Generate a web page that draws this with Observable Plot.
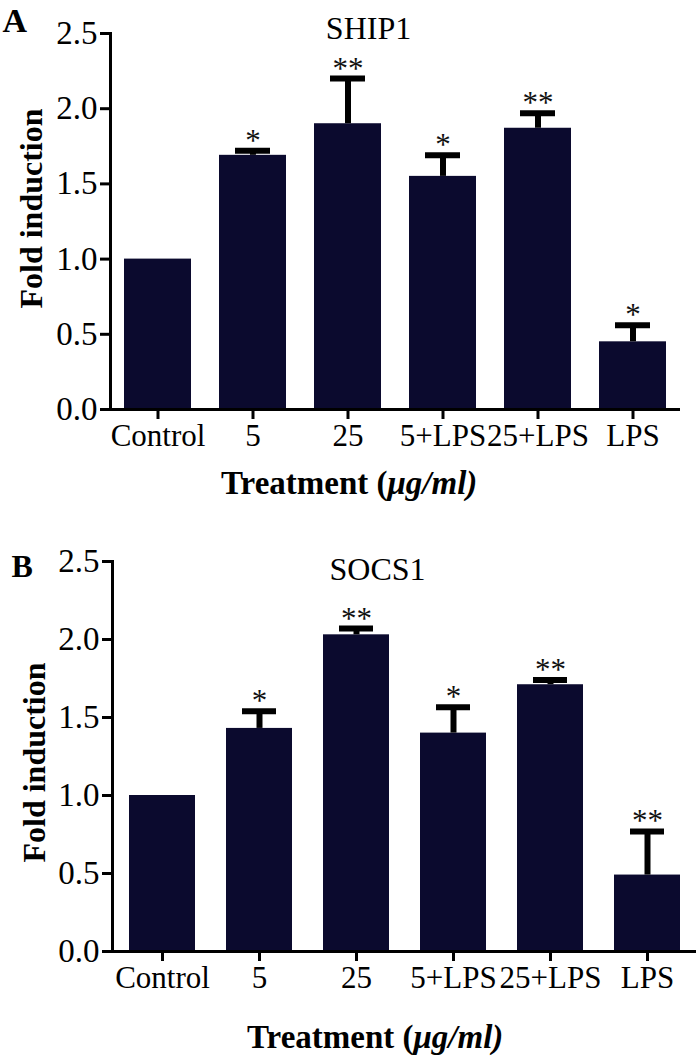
<!DOCTYPE html>
<html><head><meta charset="utf-8">
<script src="https://cdn.jsdelivr.net/npm/d3@7"></script>
<script src="https://cdn.jsdelivr.net/npm/@observablehq/plot@0.6"></script>
<style>
body{margin:0;background:#fff;}
#fig{width:696px;height:1056px;}
#fig svg{display:block;}
</style></head><body><div id="fig"></div>
<script>
const categories = ["Control","5","25","5+LPS","25+LPS","LPS"];
const ship1Values = [1.00,1.69,1.90,1.55,1.87,0.45];
const ship1Errors = [0,0.03,0.30,0.14,0.10,0.11];
const ship1Stars = ["","*","**","*","**","*"];
const socs1Values = [1.00,1.43,2.03,1.40,1.71,0.49];
const socs1Errors = [0,0.11,0.04,0.165,0.03,0.28];
const socs1Stars = ["","*","**","*","**","**"];
const yTicks = [0,0.5,1.0,1.5,2.0,2.5];
const panelLetters = ["A","B"];
const titles = ["SHIP1","SOCS1"];
const yLabel = "Fold induction";
const xLabel = "Treatment (";
const xLabelUnit = "μg/ml)";
const barColor = "#0b0a2e";
const serif = "'Liberation Serif', 'Times New Roman', serif";

function panel(values, errors, stars, letter, title, L) {
  const data = categories.map((c,i)=>({cat:c, value:values[i], err:errors[i], hi:values[i]+errors[i], star:stars[i]}));
  const withErr = data.filter(d=>d.err>0);
  return Plot.plot({
    width: 696, height: 528,
    marginLeft: L.left, marginRight: L.right, marginTop: L.top, marginBottom: L.bottom,
    style: {fontFamily: serif, fontSize: "33px", color: "#000", background: "#fff", overflow: "visible"},
    x: {domain: categories, paddingInner: L.padIn, paddingOuter: L.padIn/2, label: null},
    y: {domain: [0, 2.5], label: null},
    marks: [
      Plot.barY(data, {x: "cat", y: "value", fill: barColor}),
      Plot.ruleX(withErr, {x: "cat", y1: "value", y2: "hi", stroke: "#000", strokeWidth: 6}),
      Plot.tickY(withErr, {x: "cat", y: "hi", stroke: "#000", strokeWidth: 6, inset: L.capInset}),
      Plot.text(data.filter(d=>d.star), {x: "cat", y: "hi", text: "star", lineAnchor: "bottom", dy: 0, fontSize: 31, fill: "#111"}),
      Plot.frame({anchor: "left", strokeWidth: 3, stroke: "#000"}),
      Plot.ruleY([0], {strokeWidth: 3, stroke: "#000", insetLeft: -10}),
      Plot.axisY({ticks: yTicks, tickFormat: d3.format(".1f"), tickSize: 10, tickPadding: 3, strokeWidth: 3, fontSize: 33, label: null}),
      Plot.axisX({tickSize: 10, tickPadding: 4, strokeWidth: 3, fontSize: 31, label: null}),
      Plot.text([letter], {frameAnchor: "top-left", dx: L.letterDx, dy: L.letterDy, lineAnchor: "top", textAnchor: "start", fontWeight: "bold", fontSize: L.letterSize}),
      Plot.text([title], {frameAnchor: "top", dx: L.titleDx, dy: L.titleDy, lineAnchor: "top", textAnchor: "middle", fontSize: 32}),
      Plot.text([yLabel], {frameAnchor: "left", rotate: -90, textAnchor: "middle", dx: L.yDx, dy: L.yDy, fontWeight: "bold", fontSize: 32}),
      Plot.text([xLabel], {frameAnchor: "bottom", textAnchor: "end", lineAnchor: "bottom", dx: L.xDx, dy: L.xDy, fontWeight: "bold", fontSize: 33}),
      Plot.text([xLabelUnit], {frameAnchor: "bottom", textAnchor: "start", lineAnchor: "bottom", dx: L.xDx, dy: L.xDy, fontWeight: "bold", fontStyle: "italic", fontSize: 33})
    ]
  });
}

const fig = document.getElementById("fig");
fig.appendChild(panel(ship1Values, ship1Errors, ship1Stars, panelLetters[0], titles[0], {
  left: 110, right: 16, top: 33, bottom: 119, padIn: 0.3, capInset: 16,
  letterDx: -108, letterDy: -26, letterSize: 34, titleDx: -27, titleDy: -17,
  yDx: -79, yDy: -13, xDx: -8, xDy: 84
}));
fig.appendChild(panel(socs1Values, socs1Errors, socs1Stars, panelLetters[1], titles[1], {
  left: 112, right: 0, top: 33, bottom: 105, padIn: 0.32, capInset: 16,
  letterDx: -101, letterDy: -7, letterSize: 32, titleDx: -27, titleDy: -4,
  yDx: -78, yDy: 6, xDx: 9, xDy: 96
}));
</script></body></html>
